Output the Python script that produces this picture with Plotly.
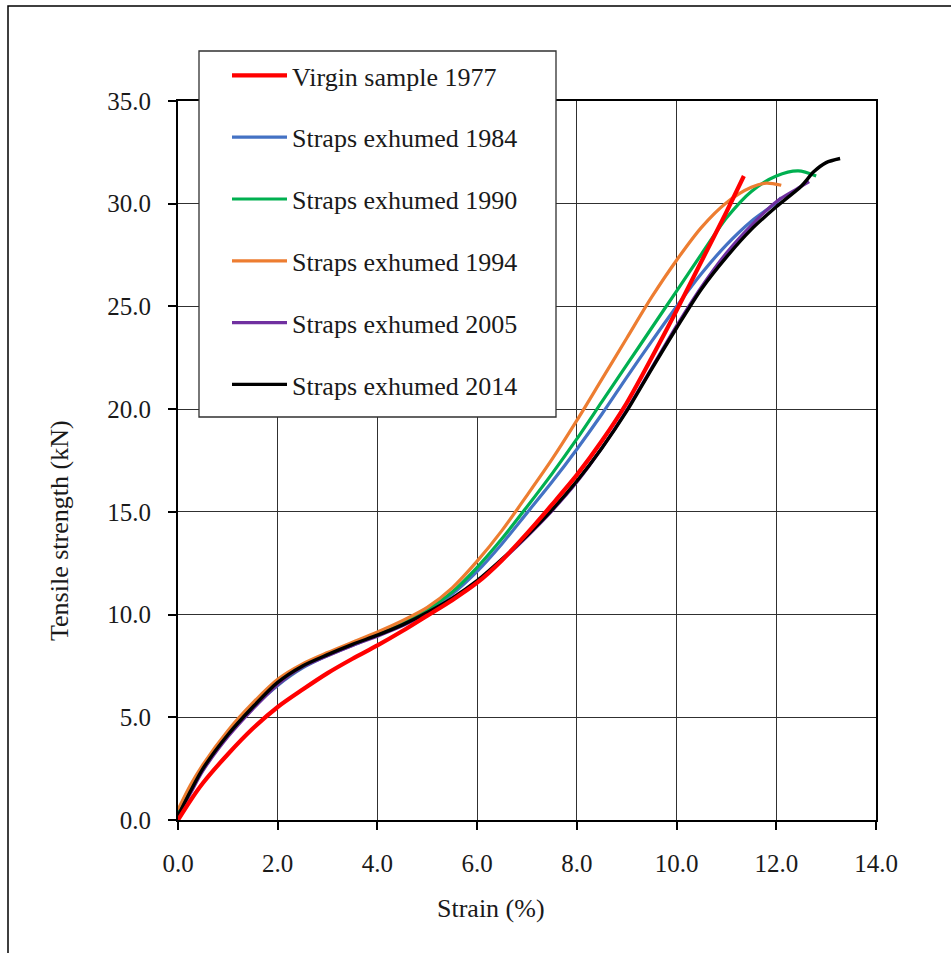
import plotly.graph_objects as go

# ---- data (strain %, tensile strength kN) ----
red_x = [0, 0.25, 0.5, 1, 1.5, 2, 2.5, 3, 3.5, 4, 4.5, 5, 5.5, 6, 6.5, 7, 7.5, 8, 8.5, 9, 9.5, 10, 10.5, 11, 11.35]
red_y = [0, 0.95, 1.8, 3.2, 4.45, 5.5, 6.35, 7.15, 7.85, 8.5, 9.2, 9.95, 10.7, 11.55, 12.65, 13.95, 15.35, 16.8, 18.45, 20.3, 22.5, 24.8, 27.2, 29.6, 31.35]

blue_x = [0, 0.25, 0.5, 1, 1.5, 2, 2.5, 3, 3.5, 4, 4.5, 5, 5.5, 6, 6.5, 7, 7.5, 8, 8.5, 9, 9.5, 10, 10.5, 11, 11.5, 12, 12.1]
blue_y = [0.3, 1.45, 2.45, 4.15, 5.45, 6.55, 7.4, 8.0, 8.5, 9.0, 9.55, 10.2, 11.0, 12.1, 13.45, 14.95, 16.45, 18.05, 19.75, 21.55, 23.3, 25.0, 26.6, 28.0, 29.15, 30.05, 30.3]

green_x = [0, 0.25, 0.5, 1, 1.5, 2, 2.5, 3, 3.5, 4, 4.5, 5, 5.5, 6, 6.5, 7, 7.5, 8, 8.5, 9, 9.5, 10, 10.5, 11, 11.5, 12, 12.44, 12.8]
green_y = [0.3, 1.5, 2.5, 4.2, 5.5, 6.6, 7.45, 8.05, 8.55, 9.05, 9.6, 10.25, 11.1, 12.3, 13.7, 15.25, 16.85, 18.55, 20.35, 22.15, 23.95, 25.75, 27.55, 29.3, 30.6, 31.35, 31.6, 31.35]

orange_x = [0, 0.25, 0.5, 1, 1.5, 2, 2.5, 3, 3.5, 4, 4.5, 5, 5.5, 6, 6.5, 7, 7.5, 8, 8.5, 9, 9.5, 10, 10.5, 11, 11.5, 11.8, 12.1]
orange_y = [0.5, 1.7, 2.7, 4.35, 5.7, 6.85, 7.6, 8.15, 8.65, 9.15, 9.7, 10.35, 11.3, 12.6, 14.1, 15.8, 17.55, 19.45, 21.45, 23.45, 25.45, 27.25, 28.85, 30.05, 30.8, 31.0, 30.9]

purple_x = [0, 0.25, 0.5, 1, 1.5, 2, 2.5, 3, 3.5, 4, 4.5, 5, 5.5, 6, 6.5, 7, 7.5, 8, 8.5, 9, 9.5, 10, 10.5, 11, 11.5, 12, 12.4, 12.66]
purple_y = [0.2, 1.3, 2.4, 4.05, 5.4, 6.6, 7.45, 8.0, 8.5, 8.95, 9.45, 10.05, 10.75, 11.6, 12.65, 13.8, 15.05, 16.45, 18.1, 19.95, 22.0, 24.05, 25.95, 27.6, 28.95, 30.1, 30.7, 31.07]

black_x = [0, 0.25, 0.5, 1, 1.5, 2, 2.5, 3, 3.5, 4, 4.5, 5, 5.5, 6, 6.5, 7, 7.5, 8, 8.5, 9, 9.5, 10, 10.5, 11, 11.5, 12, 12.5, 12.75, 13.0, 13.28]
black_y = [0.2, 1.4, 2.5, 4.15, 5.5, 6.7, 7.5, 8.05, 8.55, 9.0, 9.5, 10.1, 10.8, 11.65, 12.7, 13.85, 15.1, 16.5, 18.1, 19.9, 21.95, 23.95, 25.85, 27.4, 28.75, 29.85, 30.85, 31.55, 32.0, 32.2]

series_names = ["Virgin sample 1977", "Straps exhumed 1984", "Straps exhumed 1990",
                "Straps exhumed 1994", "Straps exhumed 2005", "Straps exhumed 2014"]

x_ticks = [0, 2, 4, 6, 8, 10, 12, 14]
y_ticks = [0, 5, 10, 15, 20, 25, 30, 35]

# ---- figure ----
FONT = "Liberation Serif, Times New Roman, serif"
W, H = 951, 953
L, R, T, B = 178, 75, 101, 133
pw, ph = W - L - R, H - T - B


def px(xp):
    return (xp - L) / pw


def py(yp):
    return (H - B - yp) / ph


series = [
    (blue_x, blue_y, series_names[1], "#4472C4", 3.2, 2),
    (green_x, green_y, series_names[2], "#00B050", 3.2, 3),
    (orange_x, orange_y, series_names[3], "#ED7D31", 3.2, 4),
    (purple_x, purple_y, series_names[4], "#7030A0", 3.2, 5),
    (black_x, black_y, series_names[5], "#000000", 3.4, 6),
    (red_x, red_y, series_names[0], "#FF0000", 4.2, 1),
]

fig = go.Figure()
for xs, ys, name, color, w, rank in series:
    fig.add_trace(go.Scatter(
        x=xs, y=ys, name=name, mode="lines",
        line=dict(color=color, width=w, shape="spline", smoothing=0.8),
        legendgroup=name, legendrank=rank,
    ))

axis_common = dict(
    showline=True, linecolor="black", linewidth=2, mirror=True,
    showgrid=True, gridcolor="#303030", gridwidth=1.4,
    ticks="outside", ticklen=8, tickwidth=1.5, tickcolor="black",
    tickformat=".1f", zeroline=False,
    tickfont=dict(family=FONT, size=25, color="#1a1a1a"),
)

fig.update_layout(
    width=W, height=H,
    margin=dict(l=L, r=R, t=T, b=B),
    paper_bgcolor="white", plot_bgcolor="white",
    xaxis=dict(range=[0, 14], tickvals=x_ticks, ticklabelstandoff=12, **axis_common),
    yaxis=dict(range=[0, 35], tickvals=y_ticks, ticklabelstandoff=12, **axis_common),
    showlegend=True,
    legend=dict(
        x=px(227), y=py(52), xanchor="left", yanchor="top",
        bgcolor="rgba(0,0,0,0)", borderwidth=0,
        font=dict(family=FONT, size=26, color="#1a1a1a"),
        traceorder="grouped", tracegroupgap=25, itemwidth=55,
    ),
    shapes=[
        dict(type="rect", xref="paper", yref="paper",
             x0=px(199), x1=px(556), y0=py(417), y1=py(51),
             line=dict(color="#303030", width=1.3), fillcolor="white", layer="above"),
        dict(type="rect", xref="paper", yref="paper",
             x0=px(8), x1=px(980), y0=py(990), y1=py(6),
             line=dict(color="black", width=1.5), fillcolor="rgba(0,0,0,0)", layer="above"),
    ],
    annotations=[
        dict(text="Strain (%)", xref="paper", yref="paper", x=px(491), y=py(908),
             showarrow=False, font=dict(family=FONT, size=26, color="#1a1a1a"),
             xanchor="center", yanchor="middle"),
        dict(text="Tensile strength (kN)", xref="paper", yref="paper", x=px(59), y=py(531),
             showarrow=False, textangle=-90, font=dict(family=FONT, size=26, color="#1a1a1a"),
             xanchor="center", yanchor="middle"),
    ],
)

fig.write_html(
    "out.html",
    config={"displayModeBar": False},
    post_script="document.body.style.margin='0';document.body.style.overflow='hidden';",
)
